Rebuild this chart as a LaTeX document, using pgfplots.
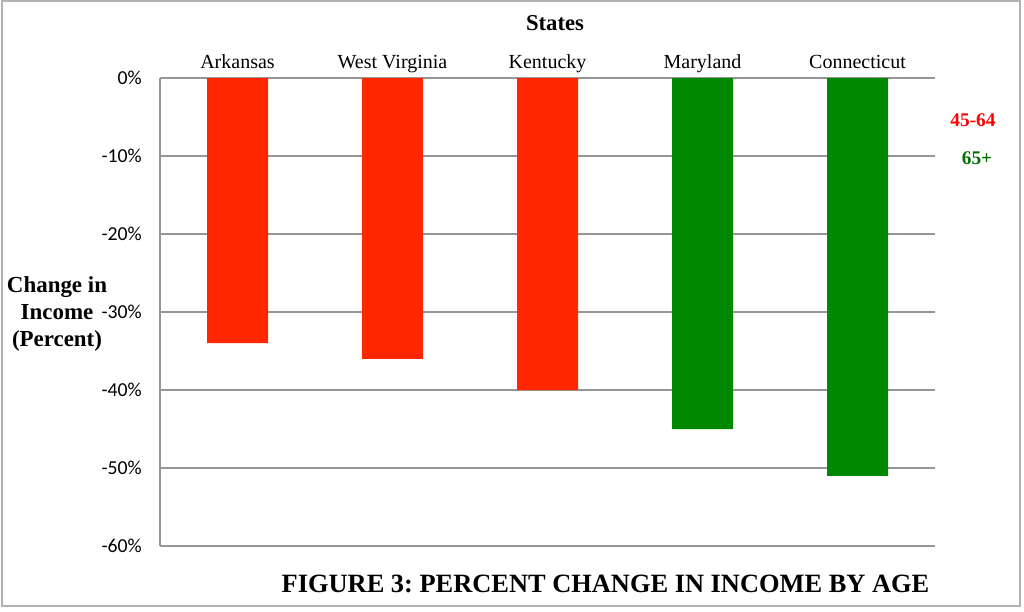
\documentclass[border=0pt]{standalone}
\usepackage{fontspec}
\setmainfont{Liberation Serif}
\newfontfamily\calibri{Carlito}
\usepackage{pgfplots}
\pgfplotsset{compat=1.18}
\definecolor{barred}{RGB}{255,38,0}
\definecolor{bargreen}{RGB}{0,137,0}
\definecolor{gridgray}{RGB}{150,150,150}
\definecolor{legred}{RGB}{255,0,0}
\definecolor{leggreen}{RGB}{0,112,0}
\frenchspacing
\begin{document}
\begin{tikzpicture}[x=0.75pt,y=0.75pt]
\useasboundingbox (0,0) rectangle (1024,611);
\fill[white] (0,0) rectangle (1024,611);
\draw[gray!60, line width=1pt] (2,5) rectangle (1020,610);
\begin{axis}[
  at={(120pt,48.75pt)}, anchor=south west, scale only axis,
  width=581.25pt, height=351pt,
  xmin=-0.5, xmax=4.5, ymin=-60, ymax=0,
  axis x line*=top, axis y line*=left,
  axis line style={gridgray, line width=1pt},
  ymajorgrids, grid style={gridgray, line width=1pt},
  xtick={0,1,2,3,4},
  xticklabels={Arkansas,West Virginia,Kentucky,Maryland,Connecticut},
  ytick={-60,-50,-40,-30,-20,-10,0},
  yticklabels={-60\%,-50\%,-40\%,-30\%,-20\%,-10\%,0\%},
  major tick length=0pt,
  xticklabel style={font=\fontsize{15}{17}\selectfont, anchor=base, yshift=7pt},
  yticklabel style={font=\calibri\fontsize{14.8}{17}\selectfont, anchor=east, inner sep=0pt, xshift=-13.5pt},
  clip=false,
]
\addplot[ybar, bar width=45.75pt, fill=barred, draw=none] coordinates {(0,-34) (1,-36) (2,-40)};
\addplot[ybar, bar width=45.75pt, fill=bargreen, draw=none] coordinates {(3,-45) (4,-51)};
\end{axis}
\node[anchor=base, font=\bfseries\fontsize{17}{20}\selectfont] at (555,580) {States};
\node[align=center, font=\bfseries\fontsize{17.2}{20}\selectfont] at (57,297) {Change in\\Income\\(Percent)};
\node[anchor=base, font=\bfseries\fontsize{14.5}{17}\selectfont, text=legred] at (973,484) {45-64};
\node[anchor=base, font=\bfseries\fontsize{14.5}{17}\selectfont, text=leggreen] at (977,446) {65+};
\node[anchor=base, font=\bfseries\fontsize{19.8}{24}\selectfont] at (605.5,19) {FIGURE 3: PERCENT CHANGE IN INCOME BY AGE};
\end{tikzpicture}
\end{document}
